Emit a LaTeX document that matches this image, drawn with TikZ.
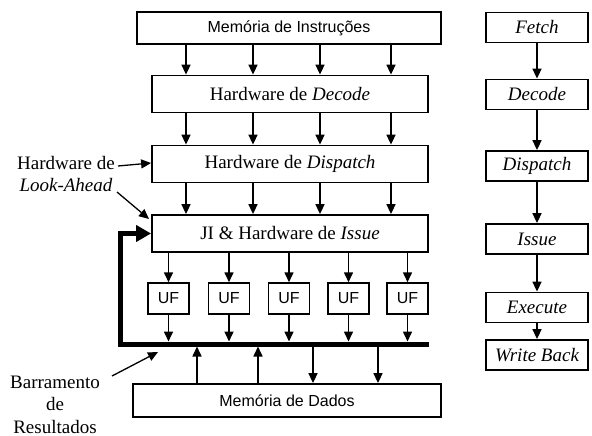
\documentclass[tikz,border=0pt]{standalone}
\usepackage{fontspec}
\setmainfont{Liberation Serif}
\newfontfamily\arialf{Liberation Sans}
\usetikzlibrary{arrows.meta}
\begin{document}
\begin{tikzpicture}[x=1pt,y=-1pt,
  box/.style={draw,line width=1.8pt,inner sep=0pt,minimum height=37pt,font=\fontsize{19}{22}\selectfont},
  sbox/.style={box,font=\arialf\fontsize{16}{19}\selectfont},
  ufbox/.style={draw,line width=1.5pt,inner sep=0pt,minimum width=41pt,minimum height=31pt,font=\arialf\fontsize{16}{19}\selectfont},
  stage/.style={draw,line width=1.8pt,inner sep=0pt,minimum width=102pt,minimum height=30pt,font=\fontsize{19}{22}\selectfont\itshape},
  lbl/.style={align=center,inner sep=0pt,font=\fontsize{19}{22.5}\selectfont},
  arr/.style={line width=1.6pt,-{Triangle[length=10pt,width=9pt]}},
  bus/.style={line width=5pt,line join=miter,-{Triangle[length=15pt,width=16pt]}}
]
\fill[white] (0,0) rectangle (592,436);
\useasboundingbox (0,0) rectangle (592,436);

% main column
\node[sbox,minimum width=304pt,minimum height=32pt] (instr) at (289,28) {Memória de Instruções};
\node[box,minimum width=276pt] (dec) at (290,94) {Hardware de \textit{Decode}};
\node[box,minimum width=276pt] (disp) at (290,164) {Hardware de \textit{Dispatch}};
\node[box,minimum width=276pt] (ji) at (290,233.5) {JI \& Hardware de \textit{Issue}};
\node[sbox,minimum width=308pt,minimum height=33pt] (mem) at (287,400.5) {Memória de Dados};

\foreach \i/\x in {1/168.5,2/229,3/289,4/348.5,5/407.5}
  \node[ufbox] (uf\i) at (\x,298.5) {UF};

% columns for the top arrows
\foreach \i/\x in {1/186,2/253,3/320,4/391}
  \coordinate (a\i) at (\x,0);
\foreach \i in {1,...,4}{
  \draw[arr] (instr.south -| a\i) -- (dec.north -| a\i);
  \draw[arr] (dec.south -| a\i) -- (disp.north -| a\i);
  \draw[arr] (disp.south -| a\i) -- (ji.north -| a\i);
}

% bus
\coordinate (busR) at (429,344);
\coordinate (busL) at (120,344);
\coordinate (busTop) at (0,341.5);
\draw[bus] (busR) -- (busL) |- (ji.west);

\foreach \i in {1,...,5}{
  \draw[arr] (ji.south -| uf\i) -- (uf\i.north);
  \draw[arr] (uf\i.south) -- (uf\i.south |- busTop);
}

% memory <-> bus
\coordinate (m1) at (197,346.5);
\coordinate (m2) at (258,346.5);
\coordinate (m3) at (313,346.5);
\coordinate (m4) at (378,346.5);
\draw[arr] (mem.north -| m1) -- (m1);
\draw[arr] (mem.north -| m2) -- (m2);
\draw[arr] (m3) -- (mem.north -| m3);
\draw[arr] (m4) -- (mem.north -| m4);

% labels
\node[lbl] (la) at (66,174) {Hardware de\\\textit{Look-Ahead}};
\coordinate (la1) at (118,166);
\coordinate (la2) at (117,192);
\draw[arr,line width=1.3pt] (la1) -- (disp.west |- 0,163);
\draw[arr,line width=1.3pt] (la2) -- (149,219);

\node[lbl] (br) at (55,404.5) {Barramento\\de\\Resultados};
\coordinate (br1) at (112,376);
\coordinate (br2) at (158,352);
\draw[arr,line width=1.3pt] (br1) -- (br2);

% stage column
\node[stage] (s1) at (537,27.5) {Fetch};
\node[stage] (s2) at (537,94.5) {Decode};
\node[stage] (s3) at (537,166) {Dispatch};
\node[stage] (s4) at (537,239) {Issue};
\node[stage] (s5) at (537,307.5) {Execute};
\node[stage] (s6) at (537,355) {Write Back};
\foreach \a/\b in {s1/s2,s2/s3,s3/s4,s4/s5,s5/s6}
  \draw[arr] (\a) -- (\b);
\end{tikzpicture}
\end{document}
